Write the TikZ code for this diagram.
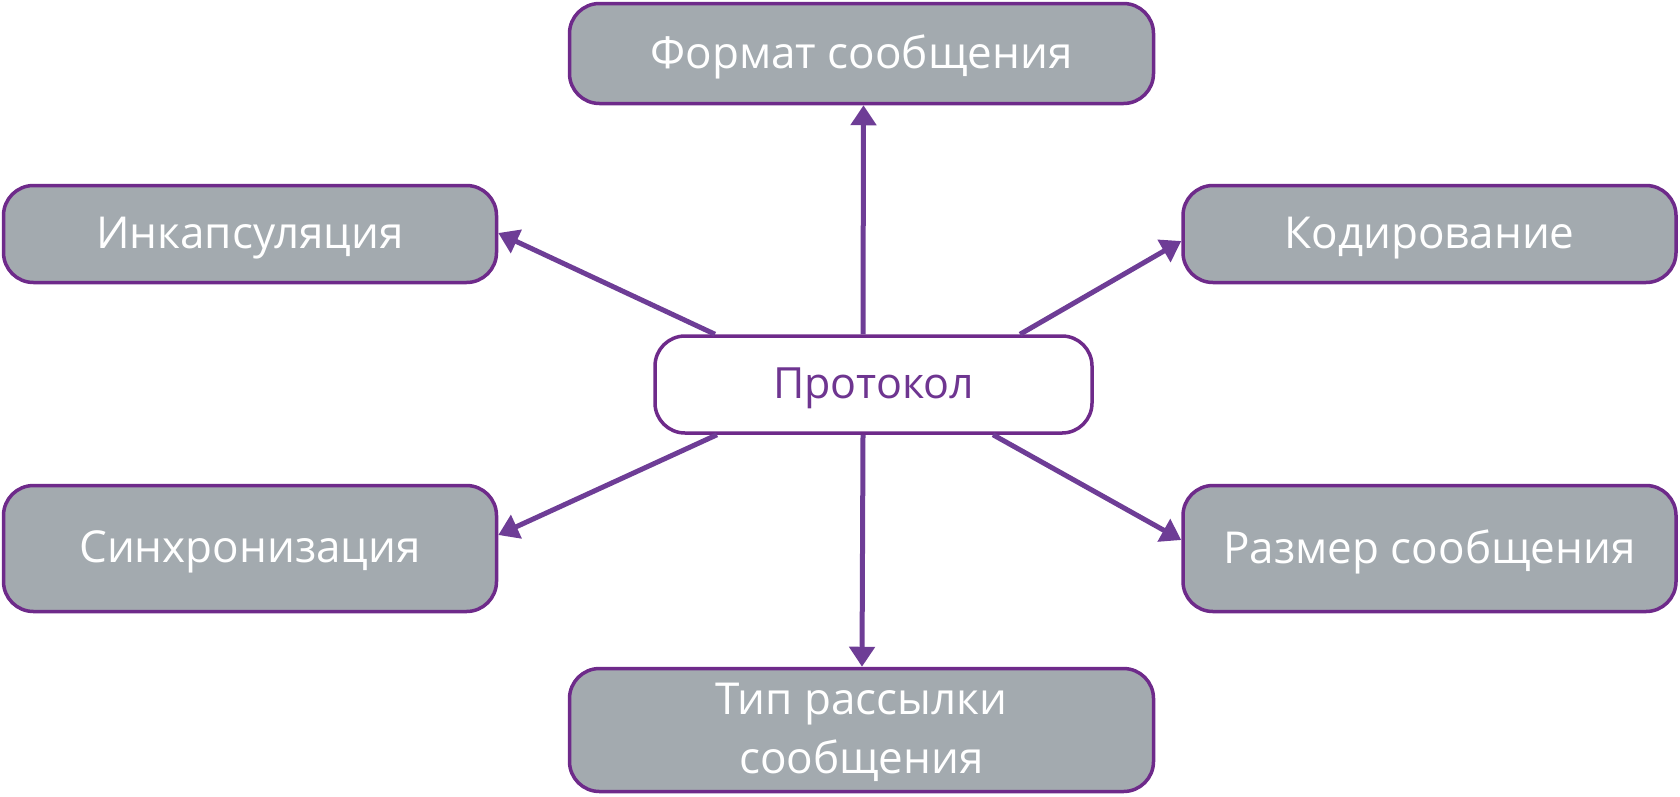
\documentclass[tikz,border=0pt]{standalone}
\usepackage{fontspec}
\setmainfont{Open Sans}
\usetikzlibrary{arrows.meta}
\definecolor{boxgray}{HTML}{A3AAAF}
\definecolor{boxpurple}{HTML}{6E2A8A}
\definecolor{arrowpurple}{HTML}{6E3D96}
\definecolor{textpurple}{HTML}{6E3590}
\tikzset{
  topic/.style={draw=boxpurple, line width=3.5pt, fill=boxgray, rounded corners=30pt,
    inner sep=0pt, align=center, text=white, text depth=3pt, font=\fontsize{44}{59}\selectfont},
  center/.style={draw=boxpurple, line width=3.5pt, fill=white, rounded corners=30pt,
    inner sep=0pt, align=center, text=textpurple, text depth=3pt, font=\fontsize{43}{52}\selectfont},
  link/.style={draw=arrowpurple, line width=5pt, -{Triangle[length=20pt,width=25pt]}}
}
\begin{document}
\begin{tikzpicture}[x=1pt,y=-1pt]
\useasboundingbox (0,0) rectangle (1680,796);
\node[topic, minimum width=584pt, minimum height=100pt] (fmt) at (861.5,53.5) {Формат сообщения};
\node[topic, minimum width=493pt, minimum height=97pt] (enc) at (250,234) {Инкапсуляция};
\node[topic, minimum width=493pt, minimum height=97pt] (kod) at (1429.5,234) {Кодирование};
\node[center, minimum width=437pt, minimum height=97pt] (proto) at (873.5,384.5) {Протокол};
\node[topic, minimum width=493pt, minimum height=126pt] (sync) at (250,548.5) {Синхронизация};
\node[topic, minimum width=493pt, minimum height=126pt] (razm) at (1429.5,548.5) {Размер сообщения};
\node[topic, minimum width=584pt, minimum height=123pt] (tip) at (861.5,730) {Тип рассылки\\сообщения};
\draw[link] ([xshift=-158.5pt]proto.north) -- ([yshift=1pt]enc.east);
\draw[link] ([xshift=-10.5pt]proto.north) -- ([xshift=2pt]fmt.south);
\draw[link] ([xshift=146.5pt]proto.north) -- ([yshift=-7pt]kod.west);
\draw[link] ([xshift=-156.5pt]proto.south) -- ([yshift=13.5pt]sync.east);
\draw[link] ([xshift=-10.5pt]proto.south) -- ([xshift=0.5pt]tip.north);
\draw[link] ([xshift=119.5pt]proto.south) -- ([yshift=8.5pt]razm.west);
\end{tikzpicture}
\end{document}
